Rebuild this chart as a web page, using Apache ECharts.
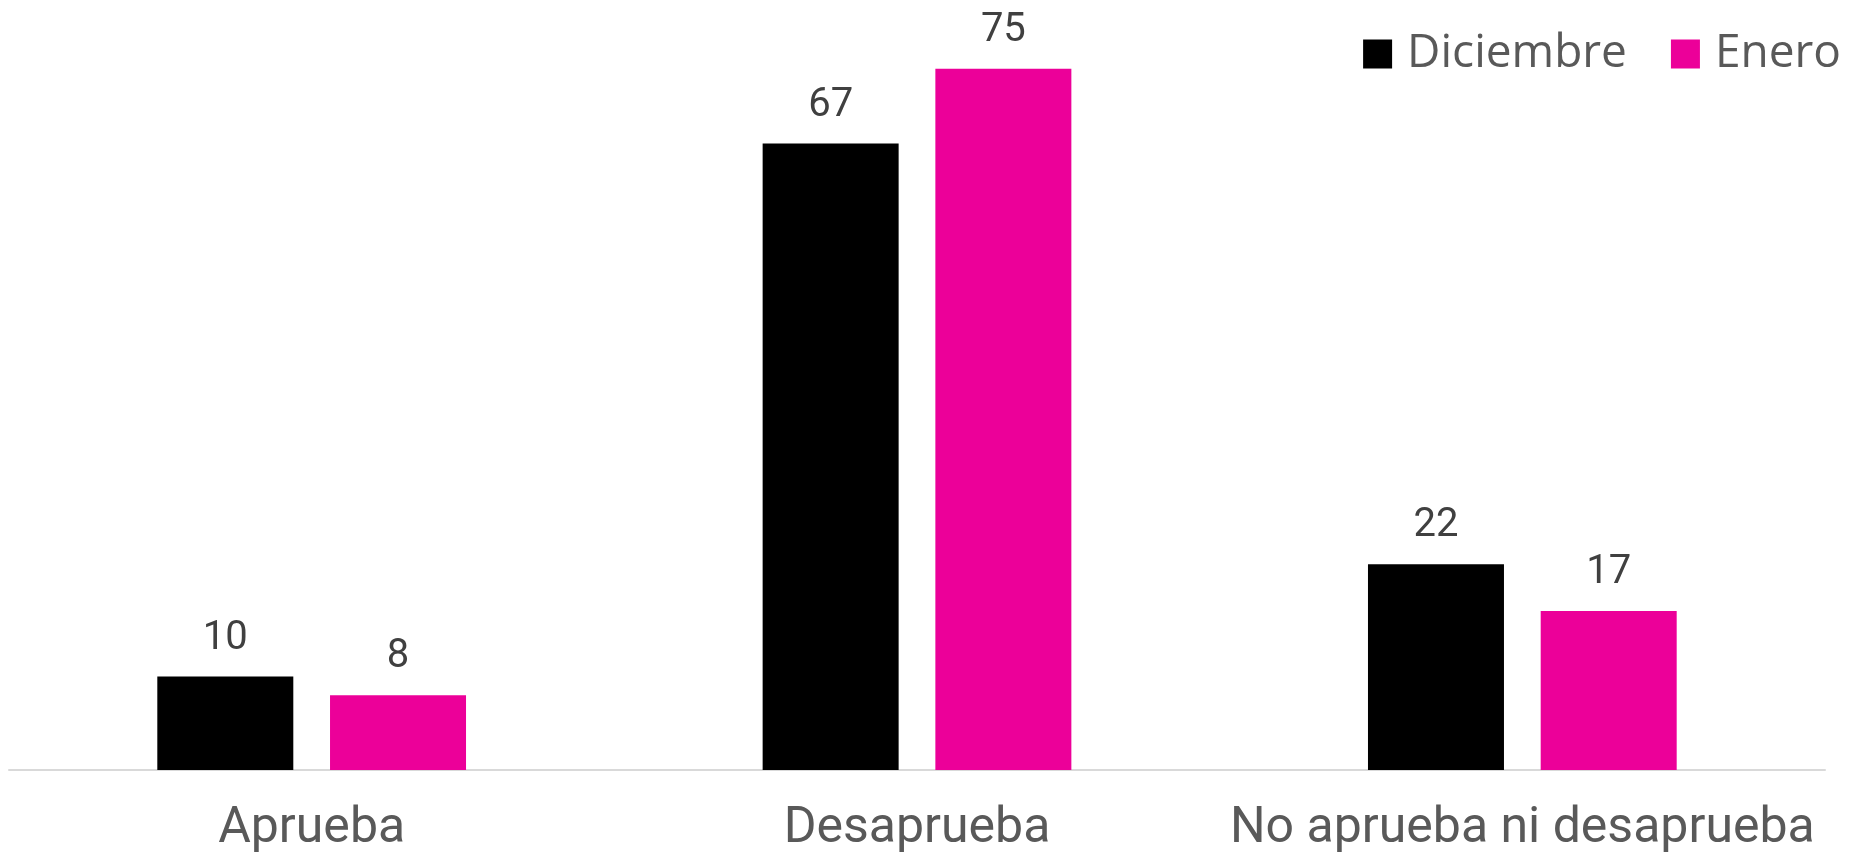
<!DOCTYPE html>
<html><head><meta charset="utf-8">
<script src="https://cdn.jsdelivr.net/npm/echarts@6/dist/echarts.min.js"></script>
<style>html,body{margin:0;padding:0;background:#fff}#c{width:1850px;height:854px}</style>
</head><body><div id="c"></div>
<script>
const categories = ["Aprueba", "Desaprueba", "No aprueba ni desaprueba"];
const diciembre = [10, 67, 22];
const enero = [8, 75, 17];
const seriesNames = ["Diciembre", "Enero"];

const chart = echarts.init(document.getElementById('c'));
const labelCfg = {show: true, position: 'top', distance: 18, color: '#404040', fontSize: 40, fontFamily: 'Roboto'};
chart.setOption({
  animation: false,
  legend: {
    right: 4, top: 26, itemWidth: 29, itemHeight: 29, itemGap: 44,
    icon: 'rect',
    textStyle: {color: '#595959', fontSize: 46, fontFamily: 'Open Sans', padding: [0,0,0,10]},
    data: seriesNames
  },
  grid: {left: 9, right: 25, top: 22, bottom: 83},
  xAxis: {
    type: 'category', data: categories,
    axisLine: {lineStyle: {color: '#d9d9d9', width: 2}},
    axisTick: {show: false},
    axisLabel: {color: '#595959', fontSize: 50, fontFamily: 'Roboto', margin: 34, interval: 0}
  },
  yAxis: {type: 'value', min: 0, max: 80, show: false, splitLine: {show: false}},
  series: [
    {name: seriesNames[0], type: 'bar', data: diciembre, itemStyle: {color: '#000000'}, barGap: '27%', barCategoryGap: '49%', label: labelCfg},
    {name: seriesNames[1], type: 'bar', data: enero, itemStyle: {color: '#EC0099'}, label: labelCfg}
  ]
});
</script></body></html>
